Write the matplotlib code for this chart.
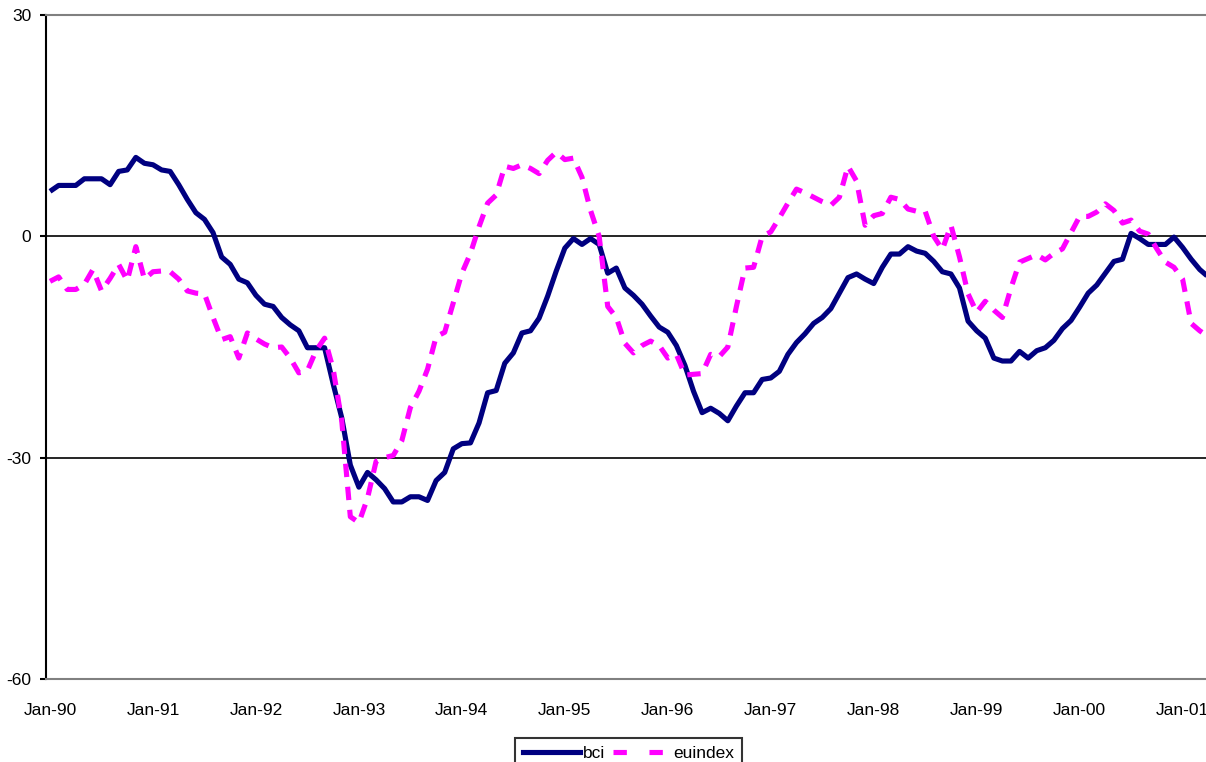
import matplotlib
matplotlib.use("Agg")
import matplotlib.pyplot as plt
from matplotlib.lines import Line2D

# ---- data (monthly, Jan-90 onward) ----
tick_labels = ["Jan-90", "Jan-91", "Jan-92", "Jan-93", "Jan-94", "Jan-95",
               "Jan-96", "Jan-97", "Jan-98", "Jan-99", "Jan-00", "Jan-01"]

bci = [6.1, 6.9, 6.9, 6.9, 7.8, 7.8, 7.8, 7.0, 8.8, 9.0, 10.7, 9.9,
       9.7, 9.0, 8.8, 7.0, 5.0, 3.2, 2.3, 0.5, -2.8, -3.8, -5.8, -6.3,
       -8.0, -9.2, -9.5, -11.0, -12.0, -12.8, -15.1, -15.1, -15.1, -20.0, -24.6, -31.0,
       -34.0, -32.0, -33.0, -34.2, -36.0, -36.0, -35.3, -35.3, -35.8, -33.1, -32.0, -28.8,
       -28.1, -28.0, -25.3, -21.2, -20.9, -17.2, -15.8, -13.1, -12.8, -11.1, -8.1, -4.7,
       -1.6, -0.3, -1.1, -0.3, -1.1, -5.0, -4.3, -7.0, -8.0, -9.2, -10.8, -12.3,
       -13.0, -14.8, -17.5, -21.0, -23.9, -23.3, -24.0, -25.0, -23.0, -21.2, -21.2, -19.4,
       -19.2, -18.3, -16.0, -14.4, -13.2, -11.8, -11.0, -9.8, -7.7, -5.6, -5.1, -5.8,
       -6.4, -4.2, -2.4, -2.4, -1.4, -2.0, -2.3, -3.4, -4.8, -5.1, -7.0, -11.5,
       -12.8, -13.8, -16.5, -16.9, -16.9, -15.6, -16.5, -15.5, -15.1, -14.1, -12.5, -11.4,
       -9.6, -7.7, -6.6, -5.0, -3.4, -3.1, 0.4, -0.3, -1.1, -1.1, -1.1, -0.1,
       -1.5, -3.1, -4.5, -5.5]

euindex = [-6.1, -5.5, -7.2, -7.2, -6.5, -4.5, -7.4, -5.7, -3.8, -6.0, -1.4, -5.8,
           -4.8, -4.7, -4.8, -5.8, -7.4, -7.7, -7.8, -11.0, -14.0, -13.6, -16.5, -13.1,
           -13.9, -14.6, -15.1, -15.0, -16.5, -18.5, -18.2, -15.5, -13.8, -18.0, -25.0, -38.0,
           -38.8, -35.5, -30.5, -30.0, -29.7, -27.7, -23.2, -21.0, -18.0, -13.6, -13.0, -9.0,
           -5.0, -2.3, 1.3, 4.5, 5.6, 9.5, 9.2, 9.7, 9.2, 8.5, 10.3, 11.4,
           10.4, 10.6, 8.0, 3.5, 0.0, -9.5, -11.0, -14.5, -15.8, -14.8, -14.2, -14.8,
           -16.5, -16.0, -18.8, -18.7, -18.6, -16.0, -16.3, -15.0, -9.5, -4.3, -4.2, 0.0,
           0.6, 2.5, 4.5, 6.4, 5.9, 5.3, 4.7, 4.2, 5.3, 9.5, 7.5, 1.5,
           2.8, 3.1, 5.3, 5.0, 3.7, 3.4, 3.4, 0.0, -1.8, 1.5, -2.8, -7.8,
           -10.3, -8.8, -10.0, -11.0, -7.0, -3.5, -3.0, -2.5, -3.2, -2.3, -1.7, 0.5,
           2.7, 2.7, 3.3, 4.4, 3.5, 1.8, 2.2, 0.7, 0.3, -1.7, -3.5, -4.2,
           -5.8, -11.8, -12.8, -13.6]

y_ticks = [30, 0, -30, -60]
series_names = ["bci", "euindex"]
# ---------------------------------------

plt.rcParams['font.family'] = ['Liberation Sans', 'DejaVu Sans']

W, H = 1206, 762
fig = plt.figure(figsize=(W / 100, H / 100), dpi=100)
left_px, right_px, top_px, bottom_px = 46, 1206, 15, 679
ax = fig.add_axes([left_px / W, 1 - bottom_px / H,
                   (right_px - left_px) / W, (bottom_px - top_px) / H])

months = list(range(len(bci)))
navy = "#000080"
magenta = "#FF00FF"

ax.plot(months, bci, color=navy, lw=3.7, solid_joinstyle="round",
        solid_capstyle="butt", zorder=3, label=series_names[0])
ax.plot(months, euindex, color=magenta, lw=3.7, dashes=(2.6, 1.9),
        dash_capstyle="butt", dash_joinstyle="round", zorder=4,
        label=series_names[1])

ax.set_ylim(-60, 30)
ax.set_xlim(-0.47, 134.73)
ax.set_yticks(y_ticks)
ax.set_yticklabels([str(v) for v in y_ticks])
ax.set_xticks([12 * i for i in range(len(tick_labels))])
ax.set_xticklabels(tick_labels)

for yv in (0, -30):
    ax.axhline(yv, color="black", lw=1.2, zorder=1)

ax.spines["right"].set_visible(False)
ax.spines["top"].set_color("#808080")
ax.spines["top"].set_linewidth(1.5)
ax.spines["bottom"].set_color("#808080")
ax.spines["bottom"].set_linewidth(1.5)
ax.spines["left"].set_color("black")
ax.spines["left"].set_linewidth(1.5)

ax.tick_params(axis="y", direction="out", length=4.5, width=1.5,
               pad=6, labelsize=12.5, colors="black")
ax.tick_params(axis="x", length=0, pad=17, labelsize=12.5)

handles = [Line2D([], [], color=navy, lw=3.7),
           Line2D([], [], color=magenta, lw=3.7, dashes=(2.6, 4.4))]
leg = fig.legend(handles, series_names, loc="upper center",
                 bbox_to_anchor=(628.5 / W, 1 - 738 / H),
                 bbox_transform=fig.transFigure, ncol=2, fontsize=12.5,
                 frameon=True, fancybox=False, edgecolor="black",
                 handlelength=3.3, handletextpad=0.2, columnspacing=0.4,
                 borderpad=0.45, borderaxespad=0)
leg.get_frame().set_linewidth(1.5)

fig.savefig("out.png", dpi=100)
